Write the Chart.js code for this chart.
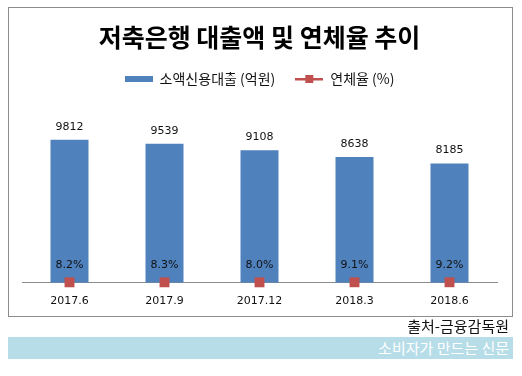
<!DOCTYPE html>
<html><head><meta charset="utf-8">
<script src="https://cdn.jsdelivr.net/npm/chart.js@4/dist/chart.umd.min.js"></script>
<style>
html,body{margin:0;padding:0;background:#fff;width:522px;height:376px;overflow:hidden;font-family:"Noto Sans CJK KR",sans-serif}
#wrap{position:absolute;left:0;top:0;width:522px;height:376px}
#frame{position:absolute;left:8px;top:7px;width:503px;height:308px;border:1px solid #8c8c8c;box-sizing:content-box}
#src{position:absolute;right:13px;top:315px;font-size:15px;color:#111;line-height:22px}
#banner{position:absolute;left:8px;top:337px;width:505px;height:22px;background:#b7dde8;color:#fff;font-size:15px;line-height:22px;text-align:right;box-sizing:border-box;padding-right:4px}
canvas{position:absolute;left:0;top:0}
</style></head>
<body>
<div id="frame"></div>
<div id="wrap"><canvas id="c" width="522" height="376"></canvas></div>
<div id="src">출처-금융감독원</div>
<div id="banner">소비자가 만드는 신문</div>
<script>
const categories = ["2017.6","2017.9","2017.12","2018.3","2018.6"];
const loanValues = [9812, 9539, 9108, 8638, 8185];
const rateValues = [8.2, 8.3, 8.0, 9.1, 9.2];
const rateLabels = ["8.2%","8.3%","8.0%","9.1%","9.2%"];

const BLUE = "#4f81bd", RED = "#c0504d";

function makeIcon(kind){
  const c = document.createElement("canvas");
  c.width = 28; c.height = 10;
  const g = c.getContext("2d");
  if(kind === "bar"){ g.fillStyle = BLUE; g.fillRect(0,2,28,6); }
  else { g.fillStyle = RED; g.fillRect(0,4,28,2.5); g.fillRect(10,1,8,8); }
  return c;
}
const icons = [makeIcon("bar"), makeIcon("line")];

const labelPlugin = {
  id: "valLabels",
  afterDatasetsDraw(chart){
    const ctx = chart.ctx;
    ctx.save();
    ctx.font = "11px 'DejaVu Sans'";
    ctx.fillStyle = "#111";
    ctx.textAlign = "center";
    ctx.textBaseline = "middle";
    chart.getDatasetMeta(0).data.forEach((b,i)=>{
      ctx.fillText(String(loanValues[i]), b.x, b.y - 13);
    });
    chart.getDatasetMeta(1).data.forEach((p,i)=>{
      ctx.fillText(rateLabels[i], p.x, p.y - 17);
    });
    ctx.restore();
  }
};
const legendPad = {
  id: "legendPad",
  beforeInit(chart){
    const fit = chart.legend.fit;
    chart.legend.fit = function(){ fit.bind(chart.legend)(); this.height += 12; };
  }
};

new Chart(document.getElementById("c"), {
  data: {
    labels: categories,
    datasets: [
      {type:"bar", label:"소액신용대출 (억원)", data: loanValues, backgroundColor: BLUE,
       barPercentage: 0.8, categoryPercentage: 0.5, yAxisID:"y", order:2},
      {type:"line", label:"연체율 (%)", data: rateValues, yAxisID:"y2", showLine:false, clip:false,
       pointStyle:"rect", pointRadius:7, pointBackgroundColor: RED, pointBorderColor: RED, pointBorderWidth:0,
       borderColor: RED, backgroundColor: RED, order:1}
    ]
  },
  plugins: [labelPlugin, legendPad],
  options: {
    responsive:false, animation:false,
    layout:{padding:{left:22,right:25,bottom:56,top:0}},
    plugins:{
      title:{display:true, text:"저축은행 대출액 및 연체율 추이", color:"#000",
        font:{family:"'Noto Sans CJK KR'", size:25, weight:"bold"}, padding:{top:22,bottom:0}},
      legend:{display:true, position:"top",
        labels:{usePointStyle:true, pointStyleWidth:28, boxHeight:10, padding:20, color:"#111",
          font:{family:"'Noto Sans CJK KR'", size:14},
          generateLabels(chart){
            return chart.data.datasets.map((d,i)=>({text:d.label, pointStyle: icons[i], datasetIndex:i,
              fillStyle: i?RED:BLUE, strokeStyle:"transparent", lineWidth:0, fontColor:"#111"}));
          }}},
      tooltip:{enabled:false}
    },
    scales:{
      x:{grid:{display:false, drawTicks:false}, border:{display:true, color:"#8c8c8c", width:1},
         ticks:{color:"#111", font:{family:"'DejaVu Sans'", size:11}, padding:12}},
      y:{display:false, min:0, max:12000},
      y2:{display:false, min:0, max:3000}
    }
  }
});
</script>
</body></html>
